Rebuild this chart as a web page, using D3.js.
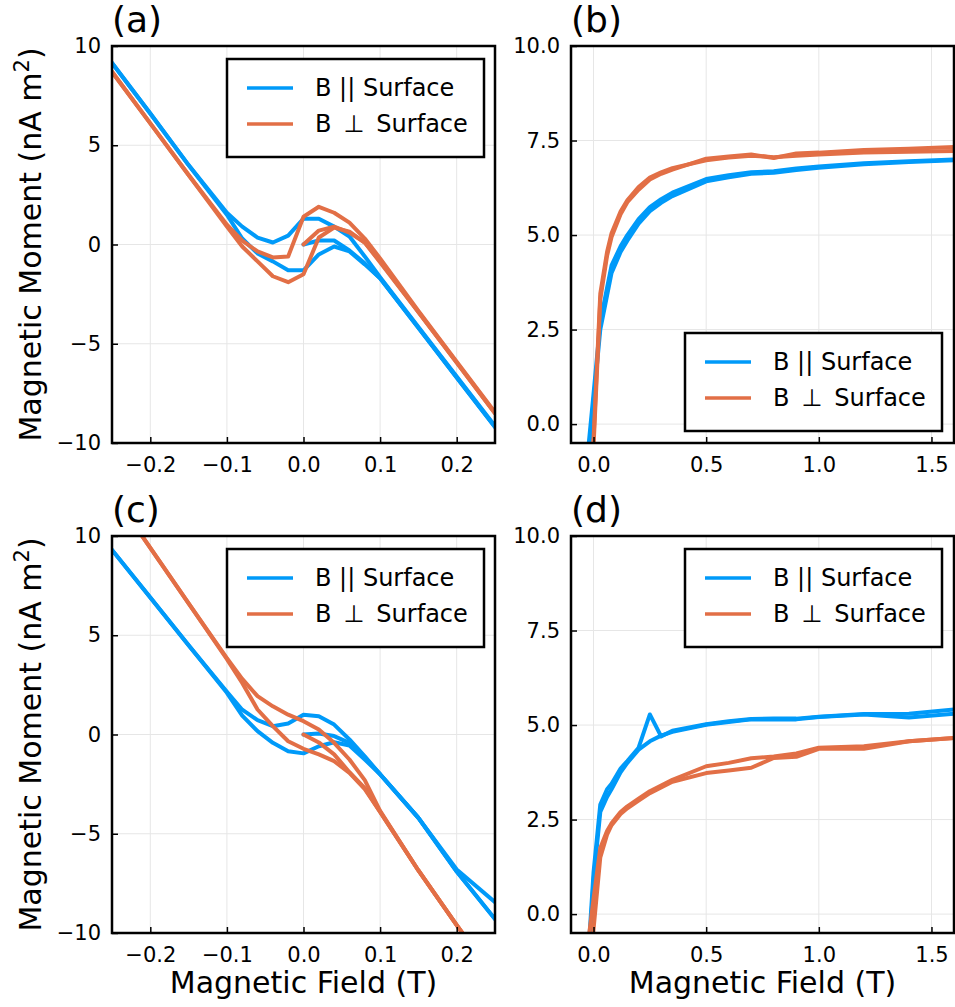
<!DOCTYPE html>
<html>
<head>
<meta charset="utf-8">
<script src="https://cdn.jsdelivr.net/npm/d3@7"></script>
<style>
    body { margin: 0; background: #fff; }
    svg { font-family: "DejaVu Sans", sans-serif; }
</style>
</head>
<body>
<svg id="chart" width="955" height="1007"></svg>
<script>

//
// ***********************************************************************************
//                      DATA
// ***********************************************************************************
//

// Field values (T) for the low-field hysteresis loops, (a) and (c).
const fieldLoop = [-0.25, -0.2, -0.15, -0.1, -0.08, -0.06, -0.04, -0.02, 0,
                   0.02, 0.04, 0.06, 0.08, 0.1, 0.15, 0.2, 0.25];
const fieldVirgin = [0, 0.02, 0.04, 0.06, 0.08, 0.1, 0.15, 0.2, 0.25];

// Field values (T) for the saturation curves, (b) and (d).
const fieldSat = [-0.05, 0, 0.03, 0.06, 0.08, 0.12, 0.15, 0.2, 0.25, 0.3,
                  0.35, 0.5, 0.6, 0.7, 0.8, 0.9, 1.0, 1.2, 1.4, 1.6];

// (a) moments, nA m^2
const aParUpper  = [9.15, 6.6, 4.0, 1.6, 0.9, 0.35, 0.1, 0.45, 1.3, 1.3, 0.9, 0.4, -0.6, -1.65, -4.15, -6.65, -9.15];
const aParLower  = [9.15, 6.6, 4.0, 1.5, 0.3, -0.45, -0.85, -1.3, -1.3, -0.5, -0.1, -0.35, -1.0, -1.7, -4.2, -6.7, -9.2];
const aParVirgin = [0, 0.2, 0.2, -0.3, -0.95, -1.7, -4.2, -6.7, -9.2];
const aPerUpper  = [8.7, 6.1, 3.5, 1.0, 0.2, -0.35, -0.65, -0.6, 1.4, 1.9, 1.6, 1.1, 0.3, -0.7, -3.35, -5.9, -8.45];
const aPerLower  = [8.7, 6.1, 3.5, 0.9, -0.1, -0.85, -1.6, -1.9, -1.5, 0.35, 0.85, 0.65, 0.1, -0.9, -3.4, -5.95, -8.5];
const aPerVirgin = [0, 0.7, 0.9, 0.6, 0.1, -0.85, -3.4, -5.95, -8.5];

// (b) moments
const bParUp   = [-2.5, 0.6, 2.5, 3.4, 4.0, 4.55, 4.85, 5.3, 5.63, 5.85, 6.03, 6.42, 6.53, 6.62, 6.65, 6.72, 6.78, 6.87, 6.93, 6.98];
const bParDown = [-2.3, 0.8, 2.7, 3.6, 4.2, 4.7, 5.0, 5.42, 5.74, 5.95, 6.12, 6.48, 6.58, 6.66, 6.69, 6.76, 6.81, 6.9, 6.95, 7.0];
const bPerUp   = [-4.5, -0.6, 3.3, 4.45, 4.95, 5.55, 5.87, 6.2, 6.47, 6.62, 6.73, 7.02, 7.08, 7.13, 7.04, 7.16, 7.18, 7.25, 7.28, 7.33];
const bPerDown = [-4.0, -0.4, 3.45, 4.55, 5.05, 5.62, 5.92, 6.27, 6.52, 6.66, 6.77, 6.98, 7.05, 7.1, 7.06, 7.1, 7.13, 7.18, 7.2, 7.22];

// (c) moments
const cParUpper  = [9.3, 6.9, 4.5, 2.15, 1.25, 0.72, 0.42, 0.55, 1.0, 0.92, 0.5, -0.25, -1.1, -2.0, -4.2, -6.8, -8.45];
const cParLower  = [9.3, 6.9, 4.5, 2.1, 0.95, 0.17, -0.42, -0.84, -0.95, -0.59, -0.39, -0.55, -1.26, -2.0, -4.2, -6.9, -9.3];
const cParVirgin = [0, 0.05, -0.08, -0.42, -1.17, -2.0, -4.2, -6.9, -9.3];
const cPerUpper  = [12.2, 9.4, 6.6, 3.85, 2.8, 1.93, 1.42, 1.0, 0.67, 0.25, -0.42, -1.26, -2.3, -3.85, -6.85, -9.6, -12.3];
const cPerLower  = [12.2, 9.4, 6.6, 3.8, 2.6, 1.26, 0.42, -0.34, -0.72, -1.0, -1.34, -1.93, -2.75, -3.9, -6.85, -9.6, -12.3];
const cPerVirgin = [0, -0.4, -1.0, -1.9, -2.7, -3.9, -6.85, -9.6, -12.3];

// (d) moments
const dParUp   = [-4.0, 0.9, 2.7, 3.1, 3.3, 3.75, 4.0, 4.35, 4.57, 4.72, 4.82, 5.01, 5.08, 5.15, 5.15, 5.15, 5.21, 5.28, 5.2, 5.3];
const dParDown = [-3.6, 1.1, 2.9, 3.3, 3.45, 3.85, 4.05, 4.4, 5.28, 4.7, 4.85, 5.02, 5.1, 5.16, 5.17, 5.17, 5.22, 5.29, 5.3, 5.41];
const dPerUp   = [-2.0, 0.4, 1.75, 2.2, 2.4, 2.7, 2.85, 3.05, 3.25, 3.4, 3.55, 3.91, 4.0, 4.12, 4.17, 4.25, 4.4, 4.44, 4.57, 4.66];
const dPerDown = [-6.0, -0.4, 1.5, 2.1, 2.35, 2.65, 2.8, 3.0, 3.2, 3.35, 3.5, 3.73, 3.8, 3.87, 4.13, 4.16, 4.37, 4.37, 4.57, 4.66];

// Labels and ticks
const seriesLabels = ["B || Surface", "B\u2002\u22a5\u2002Surface"];
const seriesColors = ["#009af9", "#e26f46"];
const loopTicksX = [-0.2, -0.1, 0, 0.1, 0.2];
const loopTicksY = [-10, -5, 0, 5, 10];
const satTicksX = [0, 0.5, 1.0, 1.5];
const satTicksY = [0, 2.5, 5, 7.5, 10];

//
// ***********************************************************************************
//                      LAYOUT
// ***********************************************************************************
//

const svg = d3.select("#chart");
const zip = (xs, ys) => xs.map((x, i) => ({ x: x, y: ys[i] }));

const loopFrame = { x0: 112, x1: 495, xDomain: [-0.25, 0.25], yDomain: [-10, 10],
                    xTicks: loopTicksX, yTicks: loopTicksY, xFmt: d3.format(".1f"), yFmt: d3.format("d") };
const satFrame  = { x0: 571, x1: 954, xDomain: [-0.1, 1.6], yDomain: [-0.5, 10],
                    xTicks: satTicksX, yTicks: satTicksY, xFmt: d3.format(".1f"), yFmt: d3.format(".1f") };

const panels = [
    { id: "a", label: "(a)", frame: loopFrame, y0: 46, y1: 443, legend: [227, 59], yTitle: true, xTitle: false,
      series: [[zip(fieldVirgin, aParVirgin), zip(fieldLoop, aParUpper), zip(fieldLoop, aParLower)],
               [zip(fieldVirgin, aPerVirgin), zip(fieldLoop, aPerUpper), zip(fieldLoop, aPerLower)]] },
    { id: "b", label: "(b)", frame: satFrame, y0: 46, y1: 443, legend: [685, 333], yTitle: false, xTitle: false,
      series: [[zip(fieldSat, bParUp), zip(fieldSat, bParDown)],
               [zip(fieldSat, bPerUp), zip(fieldSat, bPerDown)]] },
    { id: "c", label: "(c)", frame: loopFrame, y0: 536, y1: 933, legend: [227, 549], yTitle: true, xTitle: true,
      series: [[zip(fieldVirgin, cParVirgin), zip(fieldLoop, cParUpper), zip(fieldLoop, cParLower)],
               [zip(fieldVirgin, cPerVirgin), zip(fieldLoop, cPerUpper), zip(fieldLoop, cPerLower)]] },
    { id: "d", label: "(d)", frame: satFrame, y0: 536, y1: 933, legend: [685, 549], yTitle: false, xTitle: true,
      series: [[zip(fieldSat, dParUp), zip(fieldSat, dParDown)],
               [zip(fieldSat, dPerUp), zip(fieldSat, dPerDown)]] }
];

//
// ***********************************************************************************
//                      DRAWING
// ***********************************************************************************
//

panels.forEach(p => {
    const f = p.frame;
    const x = d3.scaleLinear().domain(f.xDomain).range([f.x0, f.x1]);
    const y = d3.scaleLinear().domain(f.yDomain).range([p.y1, p.y0]);
    const g = svg.append("g").attr("class", "panel-" + p.id);

    // Clip so that curves leaving the axes are cut at the frame.
    svg.append("clipPath").attr("id", "clip-" + p.id)
        .append("rect")
        .attr("x", f.x0).attr("y", p.y0)
        .attr("width", f.x1 - f.x0).attr("height", p.y1 - p.y0);

    // Grid lines.
    g.append("g").selectAll("line").data(f.xTicks).join("line")
        .attr("x1", d => x(d)).attr("x2", d => x(d))
        .attr("y1", p.y0).attr("y2", p.y1)
        .attr("stroke", "#e6e6e6").attr("stroke-width", 1);
    g.append("g").selectAll("line").data(f.yTicks).join("line")
        .attr("x1", f.x0).attr("x2", f.x1)
        .attr("y1", d => y(d)).attr("y2", d => y(d))
        .attr("stroke", "#e6e6e6").attr("stroke-width", 1);

    // Curves.
    const line = d3.line().x(d => x(d.x)).y(d => y(d.y));
    const curves = g.append("g").attr("clip-path", `url(#clip-${p.id})`);
    p.series.forEach((branches, si) => {
        curves.selectAll(null).data(branches).join("path")
            .attr("d", line)
            .attr("fill", "none")
            .attr("stroke", seriesColors[si])
            .attr("stroke-width", 4)
            .attr("stroke-linejoin", "round")
            .attr("stroke-linecap", "round");
    });

    // Axes: inward ticks and tick labels.
    const xAxis = d3.axisBottom(x).tickValues(f.xTicks).tickFormat(f.xFmt)
        .tickSizeInner(-6).tickSizeOuter(0).tickPadding(14);
    g.append("g").attr("transform", `translate(0,${p.y1})`).call(xAxis)
        .call(a => a.select(".domain").remove())
        .call(a => a.selectAll("line").attr("stroke-width", 1.5))
        .call(a => a.selectAll("text").attr("font-size", 21).attr("font-family", "DejaVu Sans").attr("fill", "#000"));
    const yAxis = d3.axisLeft(y).tickValues(f.yTicks).tickFormat(f.yFmt)
        .tickSizeInner(-6).tickSizeOuter(0).tickPadding(11);
    g.append("g").attr("transform", `translate(${f.x0},0)`).call(yAxis)
        .call(a => a.select(".domain").remove())
        .call(a => a.selectAll("line").attr("stroke-width", 1.5))
        .call(a => a.selectAll("text").attr("font-size", 21).attr("font-family", "DejaVu Sans").attr("fill", "#000"));

    // Frame.
    g.append("rect")
        .attr("x", f.x0).attr("y", p.y0)
        .attr("width", f.x1 - f.x0).attr("height", p.y1 - p.y0)
        .attr("fill", "none").attr("stroke", "#000").attr("stroke-width", 2.5);

    // Panel label.
    g.append("text")
        .attr("x", f.x0).attr("y", p.y0 - 14)
        .attr("font-size", 36)
        .text(p.label);

    // Legend.
    const lg = g.append("g").attr("transform", `translate(${p.legend[0]},${p.legend[1]})`);
    lg.append("rect")
        .attr("width", 257).attr("height", 98)
        .attr("fill", "#fff").attr("stroke", "#000").attr("stroke-width", 2.5);
    seriesLabels.forEach((lab, i) => {
        lg.append("line")
            .attr("x1", 20).attr("x2", 66)
            .attr("y1", 29 + i * 36).attr("y2", 29 + i * 36)
            .attr("stroke", seriesColors[i]).attr("stroke-width", 3.5);
        lg.append("text")
            .attr("x", 88).attr("y", 29 + i * 36)
            .attr("dy", "0.35em")
            .attr("font-size", 24)
            .text(lab);
    });

    // Axis titles.
    if (p.xTitle) {
        g.append("text")
            .attr("x", (f.x0 + f.x1) / 2).attr("y", 993)
            .attr("text-anchor", "middle")
            .attr("font-size", 30)
            .text("Magnetic Field (T)");
    }
    if (p.yTitle) {
        const t = g.append("text")
            .attr("transform", `translate(41,${(p.y0 + p.y1) / 2}) rotate(-90)`)
            .attr("text-anchor", "middle")
            .attr("font-size", 30);
        t.append("tspan").text("Magnetic Moment (nA m");
        t.append("tspan").attr("dy", -12).attr("font-size", 21).text("2");
        t.append("tspan").attr("dy", 12).text(")");
    }
});

</script>
</body>
</html>
